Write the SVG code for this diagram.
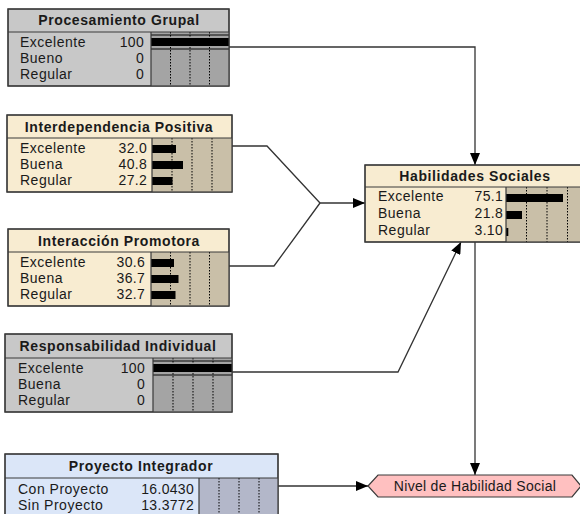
<svg xmlns="http://www.w3.org/2000/svg" width="580" height="514" viewBox="0 0 580 514">
<defs>
<marker id="arr" viewBox="0 0 12 10" refX="12" refY="5" markerWidth="12" markerHeight="10" markerUnits="userSpaceOnUse" orient="auto">
<path d="M0,0 L12,5 L0,10 Z" fill="#000"/>
</marker>
</defs>
<style>
.t{font-family:"Liberation Sans",Arial,sans-serif;font-size:14px;font-weight:bold;fill:#1a1a1a;text-anchor:middle;letter-spacing:0.6px}
.l{font-family:"Liberation Sans",Arial,sans-serif;font-size:14px;fill:#1a1a1a;letter-spacing:0.5px}
.v{font-family:"Liberation Sans",Arial,sans-serif;font-size:14px;fill:#1a1a1a;text-anchor:end;letter-spacing:0.3px}
.box{stroke:#3a3a3a;stroke-width:1.2}
.sep{stroke:#3a3a3a;stroke-width:1.2}
.dot{stroke:#000;stroke-width:1;stroke-dasharray:1.5,1.5}
.gray{fill:#c8c8c8}.grayb{fill:#a4a4a4}
.cream{fill:#f8ecd1}.creamb{fill:#c9bfa8}
.blue{fill:#dbe6f8}.blueb{fill:#b3b7c9}
.bar{fill:#000}
.conn{fill:none;stroke:#333;stroke-width:1.3}
</style>

<g id="connectors">
<polyline class="conn" points="229,47 475,47 475,165" marker-end="url(#arr)"/>
<polyline class="conn" points="232,146 267,146 320,203"/>
<polyline class="conn" points="229,266 274,266 320,203"/>
<line class="conn" x1="320" y1="203" x2="365" y2="203" marker-end="url(#arr)"/>
<polyline class="conn" points="232,372 398,372 461,242" marker-end="url(#arr)"/>
<line class="conn" x1="475" y1="242" x2="475" y2="475" marker-end="url(#arr)"/>
<line class="conn" x1="278" y1="486" x2="368" y2="486" marker-end="url(#arr)"/>
</g>

<g id="procesamiento-grupal">
<rect class="box gray" x="8" y="9" width="221" height="77"/>
<rect class="grayb" x="151" y="32" width="78" height="54"/>
<rect fill="#555" x="151" y="34" width="78" height="2"/>
<rect class="bar" x="151" y="38" width="78" height="8"/>
<rect fill="#555" x="151" y="48" width="78" height="2"/>
<line class="dot" x1="170.5" y1="32" x2="170.5" y2="86"/>
<line class="dot" x1="190" y1="32" x2="190" y2="86"/>
<line class="dot" x1="209.5" y1="32" x2="209.5" y2="86"/>
<line class="sep" x1="8" y1="32" x2="229" y2="32"/>
<line class="sep" x1="151" y1="32" x2="151" y2="86"/>
<rect class="box" fill="none" x="8" y="9" width="221" height="77"/>
<text class="t" x="119" y="25">Procesamiento Grupal</text>
<text class="l" x="20" y="47">Excelente</text><text class="v" x="144" y="47">100</text>
<text class="l" x="20" y="63">Bueno</text><text class="v" x="144" y="63">0</text>
<text class="l" x="20" y="79">Regular</text><text class="v" x="144" y="79">0</text>
</g>

<g id="interdependencia-positiva">
<rect class="box cream" x="7" y="115" width="225" height="77"/>
<rect class="creamb" x="152" y="138" width="80" height="54"/>
<rect class="bar" x="152" y="145" width="24" height="8"/>
<rect class="bar" x="152" y="161" width="31" height="8"/>
<rect class="bar" x="152" y="177" width="20.5" height="8"/>
<line class="dot" x1="172" y1="138" x2="172" y2="192"/>
<line class="dot" x1="192" y1="138" x2="192" y2="192"/>
<line class="dot" x1="212" y1="138" x2="212" y2="192"/>
<line class="sep" x1="7" y1="138" x2="232" y2="138"/>
<line class="sep" x1="152" y1="138" x2="152" y2="192"/>
<rect class="box" fill="none" x="7" y="115" width="225" height="77"/>
<text class="t" x="119" y="132">Interdependencia Positiva</text>
<text class="l" x="20" y="153">Excelente</text><text class="v" x="147" y="153">32.0</text>
<text class="l" x="20" y="169">Buena</text><text class="v" x="147" y="169">40.8</text>
<text class="l" x="20" y="185">Regular</text><text class="v" x="147" y="185">27.2</text>
</g>

<g id="interaccion-promotora">
<rect class="box cream" x="8" y="229" width="221" height="77"/>
<rect class="creamb" x="151" y="252" width="78" height="54"/>
<rect class="bar" x="151" y="259" width="23" height="8"/>
<rect class="bar" x="151" y="275" width="27.5" height="8"/>
<rect class="bar" x="151" y="291" width="24.5" height="8"/>
<line class="dot" x1="170.5" y1="252" x2="170.5" y2="306"/>
<line class="dot" x1="190" y1="252" x2="190" y2="306"/>
<line class="dot" x1="209.5" y1="252" x2="209.5" y2="306"/>
<line class="sep" x1="8" y1="252" x2="229" y2="252"/>
<line class="sep" x1="151" y1="252" x2="151" y2="306"/>
<rect class="box" fill="none" x="8" y="229" width="221" height="77"/>
<text class="t" x="119" y="246">Interacción Promotora</text>
<text class="l" x="20" y="267">Excelente</text><text class="v" x="145" y="267">30.6</text>
<text class="l" x="20" y="283">Buena</text><text class="v" x="145" y="283">36.7</text>
<text class="l" x="20" y="299">Regular</text><text class="v" x="145" y="299">32.7</text>
</g>

<g id="responsabilidad-individual">
<rect class="box gray" x="5" y="334" width="227" height="78"/>
<rect class="grayb" x="153" y="358" width="79" height="54"/>
<rect fill="#555" x="153" y="360" width="79" height="2"/>
<rect class="bar" x="153" y="364" width="79" height="8"/>
<rect fill="#555" x="153" y="374" width="79" height="2"/>
<line class="dot" x1="173" y1="358" x2="173" y2="412"/>
<line class="dot" x1="193" y1="358" x2="193" y2="412"/>
<line class="dot" x1="213" y1="358" x2="213" y2="412"/>
<line class="sep" x1="5" y1="358" x2="232" y2="358"/>
<line class="sep" x1="153" y1="358" x2="153" y2="412"/>
<rect class="box" fill="none" x="5" y="334" width="227" height="78"/>
<text class="t" x="118" y="351">Responsabilidad Individual</text>
<text class="l" x="18" y="373">Excelente</text><text class="v" x="145" y="373">100</text>
<text class="l" x="18" y="389">Buena</text><text class="v" x="145" y="389">0</text>
<text class="l" x="18" y="405">Regular</text><text class="v" x="145" y="405">0</text>
</g>

<g id="proyecto-integrador">
<rect class="box blue" x="5" y="454" width="273" height="70"/>
<rect class="blueb" x="199" y="478" width="79" height="46"/>
<line class="dot" x1="219" y1="478" x2="219" y2="514"/>
<line class="dot" x1="239" y1="478" x2="239" y2="514"/>
<line class="dot" x1="259" y1="478" x2="259" y2="514"/>
<line class="sep" x1="5" y1="478" x2="278" y2="478"/>
<line class="sep" x1="199" y1="478" x2="199" y2="514"/>
<rect class="box" fill="none" x="5" y="454" width="273" height="70"/>
<text class="t" x="141" y="471">Proyecto Integrador</text>
<text class="l" x="18" y="494">Con Proyecto</text><text class="v" x="194" y="494">16.0430</text>
<text class="l" x="18" y="510">Sin Proyecto</text><text class="v" x="194" y="510">13.3772</text>
</g>

<g id="habilidades-sociales">
<rect class="box cream" x="365" y="165" width="223" height="77"/>
<rect class="creamb" x="506" y="187" width="82" height="55"/>
<rect class="bar" x="506" y="194" width="57" height="8"/>
<rect class="bar" x="506" y="211" width="16" height="8"/>
<rect class="bar" x="506" y="228" width="2.3" height="8"/>
<line class="dot" x1="526.5" y1="187" x2="526.5" y2="242"/>
<line class="dot" x1="547" y1="187" x2="547" y2="242"/>
<line class="dot" x1="567.5" y1="187" x2="567.5" y2="242"/>
<line class="sep" x1="365" y1="187" x2="588" y2="187"/>
<line class="sep" x1="506" y1="187" x2="506" y2="242"/>
<rect class="box" fill="none" x="365" y="165" width="223" height="77"/>
<text class="t" x="475" y="181">Habilidades Sociales</text>
<text class="l" x="378" y="201">Excelente</text><text class="v" x="503" y="201">75.1</text>
<text class="l" x="378" y="218">Buena</text><text class="v" x="503" y="218">21.8</text>
<text class="l" x="378" y="235">Regular</text><text class="v" x="503" y="235">3.10</text>
</g>

<g id="nivel-habilidad-social">
<polygon points="368,486 378,475 572,475 581,486 572,497 378,497" fill="#ffc0c0" stroke="#3a3a3a" stroke-width="1.2"/>
<text class="l" x="475" y="491" text-anchor="middle" style="text-anchor:middle;letter-spacing:0.3px">Nivel de Habilidad Social</text>
</g>
</svg>
